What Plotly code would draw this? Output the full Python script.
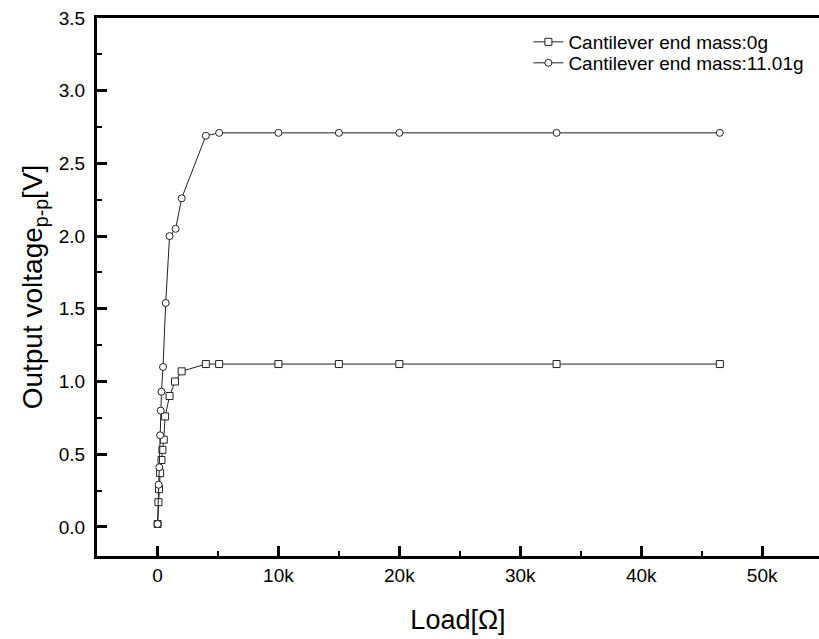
import plotly.graph_objects as go

# Load [ohm]
load_0g = [10, 80, 130, 220, 330, 410, 520, 630, 1000, 1450, 2000, 4000, 5100, 10000, 15000, 20000, 33000, 46500]
volt_0g = [0.02, 0.17, 0.26, 0.37, 0.46, 0.53, 0.60, 0.76, 0.90, 1.00, 1.07, 1.12, 1.12, 1.12, 1.12, 1.12, 1.12, 1.12]

load_11g = [10, 100, 150, 220, 270, 330, 460, 680, 1000, 1500, 2000, 4000, 5100, 10000, 15000, 20000, 33000, 46500]
volt_11g = [0.02, 0.29, 0.41, 0.63, 0.80, 0.93, 1.10, 1.54, 2.00, 2.05, 2.26, 2.69, 2.71, 2.71, 2.71, 2.71, 2.71, 2.71]

names = ["Cantilever end mass:0g", "Cantilever end mass:11.01g"]

FONT = "Liberation Sans, Arial, sans-serif"

fig = go.Figure()
fig.add_trace(go.Scatter(
    x=load_0g, y=volt_0g, name=names[0], mode="lines+markers", legend="legend",
    line=dict(color="#222222", width=1),
    marker=dict(symbol="square", size=7, color="white", line=dict(color="#222222", width=1)),
))
fig.add_trace(go.Scatter(
    x=load_11g, y=volt_11g, name=names[1], mode="lines+markers", legend="legend2",
    line=dict(color="#222222", width=1),
    marker=dict(symbol="circle", size=7, color="white", line=dict(color="#222222", width=1)),
))

leg_common = dict(xanchor="left", yanchor="middle", bgcolor="rgba(0,0,0,0)",
                  font=dict(size=19, family=FONT, color="black"), itemwidth=30)

fig.update_layout(
    width=819, height=639,
    margin=dict(l=97, r=0, t=18, b=83),
    paper_bgcolor="white", plot_bgcolor="white",
    font=dict(family=FONT, size=19, color="black"),
    showlegend=True,
    legend=dict(x=0.5975, y=0.9554, **leg_common),
    legend2=dict(x=0.5975, y=0.9164, **leg_common),
    xaxis=dict(
        range=[-5000, 54700], showgrid=False, zeroline=False,
        showline=True, linecolor="black", linewidth=2.5, mirror=True,
        ticks="inside", ticklen=10, tickwidth=2.5, tickcolor="black",
        tickmode="linear", tick0=0, dtick=10000, tickformat="~s",
        minor=dict(ticks="inside", ticklen=5, tickwidth=2, dtick=5000, tickcolor="black"),
        title=dict(text="Load[Ω]", font=dict(size=27, family=FONT), standoff=26),
    ),
    yaxis=dict(
        range=[-0.2, 3.5], showgrid=False, zeroline=False,
        showline=True, linecolor="black", linewidth=2.5,
        ticks="inside", ticklen=10, tickwidth=2.5, tickcolor="black",
        tickmode="linear", tick0=0, dtick=0.5, tickformat=".1f", ticksuffix=" ",
        minor=dict(ticks="inside", ticklen=5, tickwidth=2, dtick=0.25, tickcolor="black"),
        title=dict(text="Output voltage<sub>p-p</sub>[V]", font=dict(size=28, family=FONT), standoff=8),
    ),
)

fig.write_html("out.html")
